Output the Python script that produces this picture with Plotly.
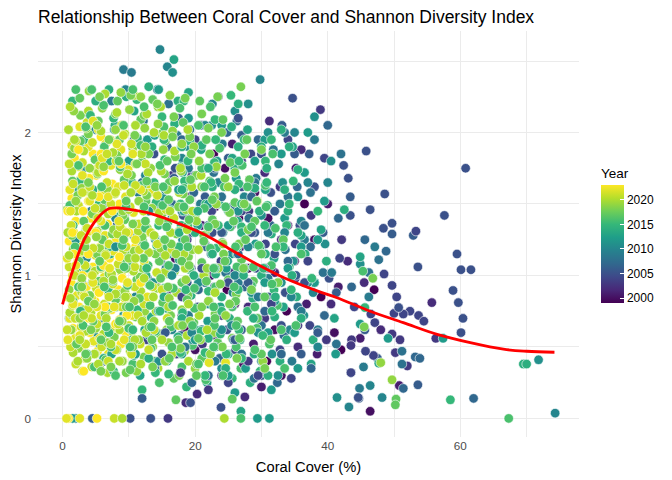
import plotly.graph_objects as go

# Points (coral cover %, Shannon index), one list per survey year
pts_2023 = [(2.9,0.50),(5.3,0.47),(8.8,0.52),(1.6,0.63),(4.1,0.60),(6.6,0.65),(9.6,0.60),
            (2.5,0.78),(4.9,0.82),(7.4,0.76),(10.4,0.80),(1.3,0.95),(3.6,0.92),(6.0,0.96),(8.4,0.90),
            (2.3,1.10),(4.6,1.06),(7.1,1.12),(9.7,1.05),(1.0,1.24),(3.3,1.22),(5.7,1.20),(8.1,1.25),(11.0,1.20),
            (2.0,1.38),(4.3,1.40),(6.8,1.36),(9.3,1.40),(1.4,1.54),(3.9,1.52),(6.2,1.55),(8.6,1.50),
            (2.7,1.67),(5.1,1.70),(7.5,1.64),(10.2,1.68),(1.8,1.82),(4.6,1.85),(7.0,1.80),(3.3,1.95),(5.8,1.97),
            (0.9,0.0),(5.2,0.0),(11.8,0.95),(3.2,0.33),
            (0.7,0.85),(2.0,0.70),(3.0,1.00),(4.0,0.70),(5.5,0.88),(6.4,0.78),(8.0,0.66),(9.0,0.98),
            (1.7,1.15),(3.9,1.15),(6.2,1.07),(8.6,1.13),(1.5,1.30),(5.0,1.30),(7.5,1.45),(10.0,1.30),
            (0.8,1.45),(3.1,1.45),(5.5,1.55),(4.0,1.68),(6.2,1.73),(8.8,1.78),(2.4,1.88),(5.8,1.85),(9.7,0.72)]
pts_2022 = [(3.4,0.42),(6.9,0.45),(1.9,0.56),(4.7,0.54),(7.8,0.57),(10.9,0.55),
            (1.1,0.70),(3.3,0.70),(5.8,0.72),(8.6,0.69),(12.0,0.72),(2.2,0.86),(4.4,0.84),(6.9,0.87),(9.4,0.84),
            (1.5,1.00),(3.9,1.02),(6.3,0.99),(8.9,1.02),(11.6,0.98),(2.7,1.16),(5.0,1.14),(7.7,1.17),(10.3,1.14),
            (1.7,1.30),(4.1,1.31),(6.4,1.28),(9.0,1.32),(12.5,1.30),(2.8,1.46),(5.3,1.44),(7.9,1.47),(10.7,1.44),
            (1.1,1.60),(3.6,1.61),(6.0,1.59),(8.4,1.62),(13.2,1.58),(2.4,1.76),(4.9,1.74),(7.3,1.77),(9.9,1.74),
            (1.4,1.91),(3.9,1.90),(6.5,1.92),(8.8,1.88),(2.6,2.04),(5.4,2.02),
            (0.6,0.0),(2.6,0.0),(22.1,0.39),(24.6,0.39),(29.4,1.52),
            (0.8,0.55),(2.6,0.58),(5.6,0.56),(9.3,0.55),(1.6,0.80),(3.2,0.86),(5.2,0.78),(7.8,0.78),
            (10.5,0.72),(12.8,0.85),(0.7,1.12),(2.0,1.07),(4.6,0.95),(7.1,1.05),(9.8,0.95),(12.3,1.10),
            (3.3,1.25),(5.8,1.38),(8.5,1.38),(11.0,1.25),(1.2,1.45),(4.1,1.52),(6.9,1.55),(9.5,1.55),
            (11.8,1.60),(3.0,1.70),(6.0,1.82),(8.2,1.92),(10.6,1.85),(4.6,2.08)]
pts_2021 = [(2.0,0.38),(4.4,0.36),(9.1,0.40),(1.2,0.50),(5.9,0.50),(8.0,0.48),(11.7,0.52),
            (2.8,0.64),(5.2,0.66),(7.2,0.62),(10.0,0.65),(13.8,0.62),(1.5,0.79),(3.9,0.77),(6.3,0.80),(8.9,0.78),(12.3,0.80),
            (2.6,0.93),(5.1,0.91),(7.6,0.94),(10.9,0.92),(15.0,0.90),(1.0,1.06),(3.4,1.07),(5.8,1.05),(8.4,1.08),(12.8,1.06),
            (2.2,1.21),(4.6,1.19),(7.0,1.22),(9.6,1.20),(14.3,1.22),(1.3,1.35),(3.7,1.33),(6.1,1.36),(8.7,1.34),(11.5,1.36),
            (2.4,1.49),(4.9,1.47),(7.3,1.50),(10.2,1.48),(15.6,1.46),(1.6,1.64),(4.1,1.62),(6.7,1.65),(9.3,1.63),(12.9,1.64),
            (3.0,1.79),(5.6,1.77),(8.1,1.80),(11.0,1.78),(2.0,1.94),(4.5,1.93),(7.2,1.95),(10.4,1.92),
            (3.7,2.07),(8.9,2.05),(7.8,0.0),
            (0.7,0.62),(3.5,0.52),(6.9,0.40),(10.4,0.45),(13.0,0.48),(1.9,0.70),(4.4,0.70),(8.4,0.66),
            (11.4,0.72),(15.8,0.70),(3.3,0.85),(7.0,0.85),(9.8,0.85),(13.6,0.92),(1.8,1.00),(4.5,1.00),
            (10.9,1.06),(14.2,1.02),(6.5,1.14),(11.6,1.18),(16.5,1.18),(2.8,1.28),(9.6,1.30),(13.3,1.30),
            (5.3,1.40),(12.2,1.45),(16.8,1.40),(3.0,1.58),(8.0,1.58),(11.0,1.63),(14.3,1.56),(1.0,1.78),
            (6.7,1.85),(12.5,1.78),(9.2,1.98)]
pts_2020 = [(3.0,0.33),(6.8,0.32),(14.4,0.35),(1.6,0.46),(4.8,0.45),(10.2,0.47),(16.5,0.45),
            (3.5,0.61),(6.2,0.59),(8.6,0.62),(12.6,0.60),(18.8,0.58),(1.1,0.74),(4.3,0.74),(9.7,0.73),(14.1,0.75),(20.6,0.72),
            (2.9,0.88),(5.5,0.89),(8.0,0.87),(11.8,0.89),(17.2,0.88),(1.9,1.02),(4.9,1.03),(7.4,1.01),(10.7,1.03),(15.4,1.02),(21.3,1.00),
            (3.1,1.17),(6.5,1.15),(9.2,1.18),(13.0,1.16),(18.3,1.15),(0.8,1.30),(5.2,1.31),(8.3,1.29),(11.4,1.31),(16.3,1.30),
            (2.1,1.45),(6.9,1.43),(10.0,1.46),(14.6,1.44),(19.6,1.45),(3.8,1.59),(7.9,1.57),(12.2,1.59),(17.6,1.58),
            (1.4,1.73),(5.4,1.72),(9.8,1.71),(14.9,1.73),(20.9,1.70),(3.2,1.87),(7.6,1.86),(11.9,1.85),(16.9,1.87),
            (0.9,2.02),(5.8,2.01),(9.4,1.99),(13.8,2.00),(18.9,2.02),(3.9,2.15),(8.2,2.14),(12.7,2.13),(6.4,2.27),(10.8,2.26),
            (9.0,0.0),(24.4,0.0),(1.15,2.18),
            (2.3,0.40),(5.4,0.38),(8.6,0.40),(11.8,0.38),(19.0,0.40),(2.6,0.55),(7.3,0.52),(10.9,0.55),
            (15.0,0.55),(17.5,0.65),(21.8,0.62),(3.2,0.72),(6.6,0.70),(12.0,0.68),(16.0,0.78),(19.0,0.80),
            (1.2,0.84),(9.5,0.85),(13.7,0.85),(23.0,0.88),(6.2,0.96),(12.3,0.98),(18.5,1.05),(1.0,1.14),
            (11.0,1.12),(15.5,1.14),(20.5,1.18),(3.6,1.25),(13.8,1.28),(18.8,1.32),(4.5,1.56),(16.2,1.45),
            (10.3,1.58),(19.5,1.62),(12.9,1.72),(17.8,1.75),(1.8,1.95),(15.3,1.98),(11.0,2.05),(14.8,2.18)]
pts_2019 = [(5.6,0.35),(11.2,0.33),(20.0,0.35),(2.4,0.49),(8.2,0.48),(13.6,0.50),(18.4,0.47),
            (1.3,0.62),(5.0,0.63),(10.5,0.61),(15.7,0.62),(22.9,0.60),(3.1,0.76),(7.1,0.77),(12.4,0.75),(18.0,0.76),
            (1.0,0.90),(6.0,0.91),(9.4,0.89),(14.3,0.91),(20.3,0.90),(3.7,1.05),(8.7,1.04),(12.1,1.05),(16.9,1.03),(23.5,1.05),
            (1.6,1.18),(5.6,1.19),(10.8,1.17),(14.8,1.19),(19.6,1.18),(3.6,1.33),(7.7,1.32),(12.8,1.33),(17.6,1.31),(22.0,1.33),
            (0.7,1.46),(5.9,1.47),(9.1,1.45),(13.5,1.47),(18.6,1.46),(2.9,1.61),(6.8,1.60),(11.0,1.61),(15.8,1.60),(21.0,1.62),
            (4.1,1.75),(8.7,1.74),(13.3,1.75),(17.9,1.73),(23.2,1.76),(1.8,1.89),(6.3,1.88),(10.6,1.89),(15.2,1.88),(19.8,1.90),
            (3.6,2.03),(8.0,2.02),(12.4,2.03),(16.6,2.01),(1.7,2.15),(6.0,2.17),(10.1,2.16),(14.4,2.18),(4.0,2.29),(8.8,2.28),
            (49.7,0.27),(48.0,0.39),(30.2,0.40),
            (3.7,0.42),(9.0,0.40),(15.5,0.40),(22.3,0.45),(6.8,0.53),(11.5,0.55),(16.0,0.53),(20.8,0.55),
            (2.6,0.70),(9.0,0.68),(13.8,0.68),(19.2,0.68),(24.6,0.72),(4.8,0.80),(10.8,0.82),(16.1,0.84),
            (22.0,0.82),(2.9,0.98),(7.6,0.97),(18.6,0.97),(21.8,1.05),(10.0,1.12),(17.1,1.15),(24.2,1.22),
            (5.1,1.27),(14.6,1.38),(20.2,1.38),(2.0,1.52),(11.5,1.52),(23.2,1.50),(16.9,1.66),(25.0,1.62),
            (6.2,1.76),(20.6,1.80),(12.5,1.90),(18.0,1.92),(5.2,2.05),(14.4,2.06),(11.8,2.25),(16.2,2.26)]
pts_2018 = [(9.6,0.32),(17.6,0.30),(4.9,0.45),(12.3,0.43),(22.3,0.46),
            (2.7,0.58),(7.8,0.57),(14.7,0.59),(19.9,0.58),(25.6,0.56),(1.5,0.72),(6.4,0.73),(11.0,0.71),(16.3,0.72),(23.0,0.73),
            (4.1,0.86),(8.8,0.87),(13.6,0.85),(18.9,0.86),(26.2,0.87),(2.2,1.00),(7.0,1.01),(11.7,0.99),(16.0,1.01),(21.5,1.00),
            (5.2,1.15),(9.9,1.14),(14.0,1.15),(19.0,1.13),(24.3,1.15),(1.4,1.28),(7.5,1.29),(12.0,1.27),(17.2,1.29),(21.3,1.28),
            (4.5,1.43),(9.1,1.42),(15.0,1.43),(20.0,1.42),(25.2,1.44),(2.3,1.56),(7.2,1.57),(12.7,1.56),(18.2,1.57),(22.9,1.55),
            (5.3,1.71),(10.4,1.70),(15.4,1.71),(20.2,1.70),(26.0,1.72),(1.4,1.85),(8.2,1.84),(13.0,1.85),(17.0,1.83),(22.2,1.85),
            (3.9,1.99),(10.9,1.98),(14.9,1.99),(19.2,1.97),(24.0,2.00),(2.7,2.12),(8.0,2.13),(12.3,2.12),(16.8,2.11),(21.0,2.13),
            (5.6,2.25),(10.3,2.26),(18.5,2.24),(26.9,2.32),(46.8,0.98),(45.5,0.64),(32.5,0.95),(30.0,1.88),
            (7.3,0.36),(13.6,0.36),(20.2,0.38),(26.3,0.42),(10.6,0.50),(17.8,0.49),(24.1,0.50),(4.3,0.62),
            (13.0,0.64),(18.1,0.65),(28.4,0.62),(9.6,0.78),(21.0,0.78),(25.2,0.80),(2.9,0.92),(15.9,0.92),
            (23.8,0.94),(28.5,0.90),(9.6,1.05),(19.1,1.07),(27.3,1.05),(3.4,1.20),(16.4,1.22),(26.6,1.22),
            (10.6,1.36),(23.0,1.36),(28.0,1.32),(17.5,1.48),(27.4,1.50),(3.9,1.65),(14.0,1.62),(24.5,1.68),
            (11.2,1.78),(19.4,1.85),(27.5,1.85),(7.0,1.95),(16.6,1.97),(22.0,2.03),(14.3,2.20),(23.4,2.25),
            (5.8,0.33),(30.5,0.35)]
pts_2017 = [(16.8,0.28),(24.3,0.32),(6.5,0.41),(13.9,0.40),(21.0,0.42),(27.3,0.40),
            (2.1,0.52),(9.8,0.54),(17.5,0.55),(23.4,0.53),(4.6,0.68),(12.0,0.69),(19.8,0.67),(26.4,0.68),(29.4,0.70),
            (1.6,0.82),(8.0,0.83),(15.1,0.81),(22.1,0.82),(5.5,0.96),(11.2,0.97),(18.0,0.95),(25.0,0.97),(28.8,0.96),
            (2.5,1.10),(9.0,1.11),(14.6,1.10),(21.0,1.09),(27.0,1.11),(6.0,1.25),(12.1,1.24),(18.5,1.25),(24.1,1.23),
            (3.2,1.38),(9.4,1.39),(15.9,1.37),(22.6,1.39),(29.0,1.38),(6.3,1.53),(12.6,1.52),(19.2,1.53),(26.0,1.51),
            (1.5,1.66),(9.3,1.67),(16.1,1.65),(22.2,1.66),(28.2,1.67),(4.9,1.81),(12.0,1.80),(19.0,1.81),(25.3,1.79),
            (2.7,1.94),(8.6,1.95),(15.5,1.94),(21.7,1.95),(27.8,1.95),(5.4,2.08),(11.8,2.09),(18.2,2.07),(24.2,2.09),
            (2.6,2.24),(8.3,2.22),(13.6,2.23),(20.7,2.22),
            (50.3,0.135),(50.2,0.095),(25.6,0.135),(17.1,0.13),(33.3,1.25),(31.4,0.55),
            (10.2,0.34),(20.2,0.30),(3.5,0.45),(16.1,0.42),(30.0,0.45),(5.8,0.55),(13.5,0.55),(20.5,0.56),
            (26.7,0.56),(8.6,0.68),(16.1,0.68),(23.0,0.70),(3.9,0.82),(11.6,0.84),(18.8,0.83),(26.1,0.82),
            (30.5,0.85),(7.6,0.96),(14.8,0.98),(21.7,0.96),(5.6,1.10),(12.2,1.12),(18.0,1.10),(24.5,1.10),
            (30.0,1.15),(9.2,1.25),(15.4,1.25),(21.3,1.24),(27.6,1.25),(12.5,1.38),(19.1,1.39),(25.8,1.38),
            (9.6,1.52),(16.0,1.53),(22.6,1.53),(29.3,1.52),(12.7,1.66),(19.3,1.67),(8.5,1.80),(15.8,1.80)]
pts_2016 = [(14.6,0.25),(21.6,0.27),(4.8,0.36),(10.6,0.38),(18.0,0.36),(26.9,0.35),
            (7.3,0.50),(13.3,0.49),(19.6,0.51),(26.2,0.50),(31.2,0.52),(3.1,0.65),(10.0,0.63),(16.4,0.64),(22.9,0.65),(29.3,0.63),
            (6.8,0.78),(13.2,0.79),(19.9,0.77),(25.6,0.78),(32.4,0.79),(2.4,0.92),(9.8,0.93),(16.7,0.91),(23.1,0.92),(28.5,0.93),
            (5.8,1.06),(12.9,1.07),(19.2,1.05),(26.3,1.06),(31.5,1.07),(1.9,1.20),(9.0,1.21),(15.8,1.20),(22.3,1.19),(29.6,1.21),
            (6.4,1.35),(12.5,1.33),(18.9,1.35),(25.3,1.34),(32.1,1.33),(1.1,1.49),(9.6,1.48),(15.1,1.49),(21.4,1.47),(27.8,1.48),
            (5.9,1.62),(12.0,1.63),(18.3,1.61),(24.4,1.62),(30.6,1.63),(2.4,1.77),(8.7,1.76),(14.7,1.77),(21.0,1.75),(27.1,1.77),
            (6.3,1.90),(11.8,1.91),(17.9,1.90),(23.7,1.89),(31.7,1.85),(3.5,2.04),(9.2,2.05),(15.3,2.04),(20.5,2.05),
            (6.2,2.19),(12.3,2.18),(17.7,2.17),(22.3,2.18),(2.0,2.30),(4.4,2.30),(10.6,2.30),
            (26.9,0.0),(67.3,0.0),(45.3,1.03),(36.0,1.15),(35.2,0.65),
            (8.0,0.30),(24.2,0.30),(10.2,0.50),(16.5,0.50),(22.8,0.50),(29.0,0.48),(6.6,0.64),(13.4,0.64),
            (19.6,0.65),(26.2,0.65),(33.0,0.62),(10.1,0.78),(16.6,0.79),(22.8,0.78),(29.0,0.78),(6.3,0.92),
            (13.2,0.93),(19.9,0.91),(25.9,0.92),(31.6,0.94),(9.3,1.06),(16.0,1.07),(22.8,1.05),(28.8,1.06),
            (12.4,1.21),(18.9,1.20),(26.1,1.20),(32.2,1.20),(15.7,1.34),(22.0,1.34),(28.5,1.34),(12.3,1.48),
            (18.3,1.48),(24.6,1.48),(30.7,1.48),(15.2,1.62),(21.4,1.62),(27.9,1.62),(20.5,0.38),(33.5,0.35)]
pts_2015 = [(12.0,0.20),(18.7,0.22),(25.6,0.28),(7.7,0.33),(16.0,0.31),(29.8,0.33),
            (3.7,0.45),(10.8,0.44),(21.5,0.46),(33.0,0.45),(7.0,0.60),(14.0,0.61),(23.8,0.59),(34.6,0.62),
            (2.7,0.75),(11.3,0.76),(18.1,0.74),(27.9,0.75),(6.9,0.90),(15.3,0.91),(22.0,0.89),(31.9,0.90),
            (3.5,1.05),(10.3,1.06),(19.2,1.04),(26.6,1.05),(34.2,1.06),(7.0,1.20),(14.2,1.21),(23.2,1.19),(29.8,1.20),
            (1.6,1.35),(10.8,1.36),(17.9,1.35),(27.0,1.34),(33.8,1.35),(5.5,1.50),(14.1,1.51),(21.6,1.50),(30.9,1.49),
            (2.6,1.66),(10.5,1.65),(18.4,1.66),(26.6,1.64),(34.8,1.66),(7.0,1.80),(15.4,1.81),(22.9,1.79),(30.6,1.80),
            (3.2,1.95),(11.3,1.96),(19.2,1.94),(27.4,1.95),(7.7,2.10),(15.0,2.11),(23.0,2.09),
            (1.5,2.22),(11.2,2.23),(18.3,2.22),(25.4,2.26),
            (58.5,0.13),(45.6,0.775),(37.6,0.98),(38.5,1.45),(4.2,2.12),
            (14.0,0.32),(21.5,0.30),(27.0,0.42),(17.8,0.46),(24.7,0.45),(30.2,0.58),(10.6,0.62),(20.9,0.61),
            (26.6,0.62),(14.7,0.75),(24.0,0.75),(31.6,0.75),(18.6,0.90),(26.5,0.90),(34.5,0.90),(12.7,1.05),
            (23.0,1.05),(30.3,1.05),(17.6,1.20),(26.4,1.20),(33.3,1.20),(14.5,1.35),(23.5,1.35),(30.5,1.35),
            (17.8,1.50),(27.0,1.50),(34.2,1.50),(13.8,1.65),(22.4,1.65),(30.8,1.65),(18.9,1.80),(26.6,1.80),
            (15.3,1.95),(23.1,1.95),(31.5,1.95)]
pts_2014 = [(28.3,0.25),(15.8,0.40),(6.2,0.42),(21.3,0.42),(32.8,0.40),
            (10.2,0.56),(17.4,0.57),(26.8,0.55),(37.8,0.55),(4.3,0.70),(13.3,0.71),(25.2,0.70),(32.0,0.71),
            (8.4,0.85),(19.4,0.86),(28.7,0.84),(35.3,0.85),(2.2,1.02),(12.6,1.00),(23.1,1.01),(30.0,1.00),
            (7.2,1.15),(16.8,1.16),(26.3,1.15),(36.6,1.15),(3.4,1.30),(11.9,1.31),(20.0,1.30),(31.5,1.29),
            (8.6,1.45),(16.2,1.46),(25.0,1.45),(34.0,1.45),(4.6,1.60),(12.2,1.60),(22.6,1.62),(29.0,1.61),
            (9.5,1.75),(17.8,1.76),(26.0,1.75),(35.5,1.74),(3.4,1.90),(13.5,1.90),(21.0,1.91),(30.0,1.90),
            (7.9,2.05),(16.9,2.06),(25.5,2.04),(33.0,2.02),(5.0,2.22),(9.6,2.25),(17.4,2.22),(26.5,2.20),
            (7.0,2.30),(13.0,2.32),(69.5,0.38),(70.0,0.38),(42.5,1.46),(39.8,1.10),
            (24.6,0.35),(31.0,0.30),(13.0,0.42),(28.9,0.45),(22.0,0.56),(33.8,0.55),(18.0,0.70),(28.8,0.70),
            (36.0,0.70),(15.3,0.85),(24.0,0.85),(32.1,0.85),(19.8,1.00),(27.3,1.00),(34.6,1.00),(22.6,1.15),
            (30.6,1.15),(17.6,1.30),(27.0,1.30),(35.5,1.30),(20.4,1.45),(29.7,1.45),(18.0,1.60),(26.0,1.60),
            (33.5,1.60),(22.0,1.75),(30.8,1.75),(18.0,1.90),(26.5,1.90),(34.2,1.90)]
pts_2013 = [(11.7,0.30),(21.8,0.25),(26.9,0.05),(7.4,0.45),(16.8,0.48),(25.0,0.45),(37.5,0.38),
            (3.9,0.62),(12.4,0.62),(19.9,0.63),(29.2,0.62),(8.1,0.78),(15.7,0.77),(23.8,0.78),(33.3,0.78),
            (4.5,0.95),(13.0,0.94),(20.6,0.95),(28.6,0.94),(38.0,0.95),(9.0,1.10),(17.6,1.11),(24.9,1.10),(31.9,1.12),
            (5.1,1.28),(13.9,1.27),(21.5,1.28),(36.0,1.28),(9.4,1.48),(18.3,1.45),(26.4,1.38),(32.0,1.45),(39.0,1.32),
            (2.4,1.60),(14.1,1.62),(23.6,1.50),(30.6,1.60),(6.6,1.80),(18.1,1.72),(25.6,1.82),(34.7,1.90),
            (10.8,2.15),(13.9,1.98),(20.9,1.88),(27.9,2.02),(5.2,1.82),(16.8,2.51),(19.0,2.28),
            (47.7,0.386),(44.9,1.13),(41.0,0.70)]
pts_2012 = [(1.0,0.70),(2.9,0.95),(4.1,2.12),(5.6,0.52),(7.1,1.62),(8.6,1.05),(10.0,1.80),(11.5,1.30),
            (13.0,0.58),(14.5,2.30),(16.0,1.15),(17.5,0.88),(19.0,2.10),(20.4,1.35),(21.9,0.68),(23.3,1.80),
            (24.7,1.05),(26.2,1.68),(27.6,0.35),(29.1,1.22),(30.5,1.95),(32.0,0.82),(33.5,1.40),(35.0,0.60),
            (36.5,1.72),(38.0,0.95),(39.5,1.52),(41.2,0.45),(29.4,0.0),(31.2,0.0),(1.5,0.0),(57.4,0.56),
            (49.1,0.56),(44.9,0.66),(6.0,1.35),(12.8,1.95),(18.0,0.45),(25.0,0.30),(34.0,1.05),(37.0,2.00),
            (14.5,0.75),(20.0,0.55),(22.0,1.50),(27.5,1.05),(31.0,0.60),(33.0,1.85),(36.0,1.20),(25.0,1.35),
            (17.5,1.60),(29.0,1.80),(35.5,0.35),(11.0,0.45),(24.0,2.05),(30.5,0.95),(38.5,1.25),
            (26.0,0.18),(31.5,0.20)]
pts_2011 = [(3.2,1.75),(4.8,0.58),(6.2,1.50),(7.8,2.02),(9.2,0.72),(10.7,1.28),(12.2,1.92),(13.6,0.95),
            (15.1,1.55),(16.6,2.42),(18.1,1.25),(19.6,0.55),(21.0,1.62),(22.5,2.05),(24.0,0.62),(25.5,1.15),
            (27.0,1.80),(28.5,0.88),(30.0,1.42),(31.6,0.45),(33.2,1.65),(34.8,1.10),(36.4,0.72),(38.0,2.11),
            (39.6,1.22),(41.4,0.146),(40.5,1.80),(44.9,1.08),(71.8,0.41),(2.0,1.25),(8.0,1.20),(14.5,0.40),
            (20.5,0.95),(26.0,2.15),(32.5,0.30),
            (16.5,1.00),(22.0,0.80),(26.5,1.45),(29.5,0.60),(33.0,0.95),(35.5,1.55),(19.0,1.90),(24.0,0.35),
            (31.0,2.00),(37.0,0.95),(13.0,1.45),(28.0,2.20)]
pts_2010 = [(3.6,1.12),(5.0,2.02),(6.6,0.92),(8.0,1.40),(9.5,2.30),(11.0,0.85),(12.5,1.70),(14.0,1.25),
            (14.7,2.58),(15.8,2.46),(16.5,0.62),(18.0,1.82),(19.6,1.42),(21.0,0.98),(22.6,2.20),(24.2,1.30),
            (25.7,0.88),(27.4,1.55),(29.8,2.37),(31.0,1.05),(32.6,1.78),(34.3,0.62),(36.0,1.38),(37.8,0.88),
            (40.0,1.65),(43.2,0.08),(46.4,0.23),(48.2,0.146),(74.3,0.037),(2.0,0.0),(6.0,1.60),(17.0,1.05),
            (23.0,0.50),(35.0,2.00),
            (19.5,0.60),(23.5,1.65),(28.0,1.20),(30.0,0.40),(33.5,1.30),(37.0,1.65),(25.5,0.65),(15.5,1.60),
            (21.5,2.05),(34.5,0.85),(26.0,1.00),(38.5,0.50)]
pts_2009 = [(4.3,1.45),(5.9,0.70),(7.4,2.22),(9.2,2.44),(10.4,2.42),(11.4,1.58),(13.1,0.80),(14.3,2.30),
            (15.6,1.05),(17.3,1.98),(19.0,0.72),(20.8,1.50),(22.4,1.15),(24.1,1.92),(25.8,0.55),(27.5,1.25),
            (29.2,1.68),(31.0,0.98),(32.8,1.50),(34.6,0.40),(36.5,1.25),(38.5,0.62),(40.6,1.02),(44.8,0.21),
            (45.4,0.36),(47.1,1.20),(46.2,0.85),(12.0,1.20),(18.0,1.45),(26.5,0.95),
            (16.5,1.40),(21.5,0.95),(26.0,1.75),(29.5,0.85),(33.5,2.00),(36.0,0.75),(23.0,0.40),(19.0,1.75),
            (31.0,1.30),(38.0,1.95)]
pts_2008 = [(5.4,0.95),(7.0,1.78),(8.8,0.40),(10.5,1.10),(12.2,2.08),(14.0,1.48),(15.7,0.85),(17.4,1.30),
            (19.2,2.02),(21.0,0.62),(22.8,1.72),(24.6,1.02),(26.3,2.08),(28.1,1.40),(30.0,0.65),(31.8,1.88),
            (33.6,1.18),(35.5,0.78),(37.4,1.58),(39.3,1.02),(41.3,0.52),(43.5,0.32),(46.2,1.02),(47.7,1.11),
            (51.2,0.38),(51.2,0.47),(16.0,2.20),(28.9,0.28),(10.0,1.70),(42.0,1.85),
            (18.5,0.50),(22.0,1.35),(25.5,0.80),(29.0,1.65),(32.5,0.95),(36.5,1.35),(20.0,1.70),(27.0,0.45),
            (34.0,1.55),(24.0,1.55)]
pts_2007 = [(6.3,0.40),(8.2,1.35),(10.1,0.55),(12.0,1.65),(13.9,0.35),(15.8,1.90),(17.8,0.58),(19.8,1.58),
            (21.7,1.20),(23.7,0.42),(25.6,1.48),(27.5,0.92),(29.5,1.95),(31.4,1.35),(33.4,0.58),(35.4,1.62),
            (37.4,1.20),(39.5,0.72),(41.6,1.40),(43.6,0.92),(45.6,1.25),(48.8,1.17),(53.2,0.43),(53.9,0.42),
            (51.4,0.21),(62.0,0.14),(14.8,1.10),(24.8,2.00),(32.4,0.25),(40.0,2.05),
            (16.5,1.50),(20.5,0.90),(23.0,1.75),(26.5,1.15),(30.5,0.75),(34.0,1.10),(37.5,0.35),(28.5,1.55),
            (18.0,1.95),(22.0,0.30),(19.5,0.25),(33.0,0.45)]
pts_2006 = [(8.7,0.88),(10.8,1.95),(12.8,0.98),(14.8,1.15),(16.8,1.68),(18.8,0.95),(20.9,2.05),(22.9,0.92),
            (25.0,1.82),(27.0,0.62),(29.0,1.30),(31.1,0.85),(33.1,2.05),(35.2,1.00),(37.2,1.85),(39.3,1.30),
            (41.3,0.88),(43.4,1.55),(45.6,0.62),(47.5,0.42),(49.7,1.29),(52.9,1.28),(53.6,0.235),(44.7,0.14),
            (4.5,0.0),(12.0,0.14),(9.8,1.45),(19.6,1.30),(27.0,1.98),(30.0,0.30),(36.0,0.45),
            (15.5,0.60),(21.5,1.55),(24.0,1.30),(28.0,0.95),(32.0,1.45),(35.0,1.85),(38.5,0.60),(26.0,0.55),
            (17.5,2.10),(30.5,1.05)]
pts_2005 = [(10.2,0.0),(13.3,0.0),(11.5,1.20),(13.8,1.85),(16.0,1.02),(18.2,1.42),(20.4,0.78),(22.6,1.30),
            (24.8,0.62),(27.0,1.62),(29.2,1.05),(31.4,1.58),(33.6,0.88),(34.7,2.24),(35.8,1.35),(38.0,1.62),
            (40.2,0.98),(42.4,1.77),(43.1,1.68),(45.8,1.87),(46.4,1.46),(48.6,1.57),(49.7,1.365),(50.7,0.775),
            (53.6,1.06),(59.5,1.15),(60.1,1.04),(61.6,1.04),(60.8,1.75),(58.9,0.895),(59.7,0.81),(60.4,0.70),
            (60.1,0.60),(57.6,1.42),(48.4,1.33),(19.3,0.11),(23.9,0.077),(44.6,0.146),(43.4,1.42),
            (17.0,1.75),(21.0,1.05),(25.0,0.95),(28.5,1.30),(30.0,1.85),(33.0,0.65),(36.5,0.95),(26.5,2.10),
            (15.0,0.45),(32.0,1.15)]
pts_2004 = [(12.6,0.55),(14.9,1.38),(17.2,0.45),(19.4,1.05),(21.7,1.75),(23.9,1.10),(26.1,0.48),(28.4,1.85),
            (30.6,1.22),(32.8,0.48),(35.1,1.22),(37.3,0.65),(39.5,1.82),(41.8,1.12),(44.0,0.78),(46.5,0.73),
            (47.1,0.67),(50.0,0.735),(50.4,0.85),(49.7,0.93),(48.5,1.01),(52.4,0.75),(51.4,0.73),(53.7,0.72),
            (54.5,0.68),(53.3,1.31),(43.5,0.32),(46.9,0.44),(45.7,0.47),
            (18.0,0.85),(22.5,1.45),(27.0,1.45),(31.5,0.80),(34.0,1.95),(37.0,1.10),(25.0,0.25),(20.0,1.95),
            (29.5,0.30),(34.5,0.28)]
pts_2003 = [(14.2,0.92),(16.5,1.70),(18.8,1.25),(21.1,0.52),(23.5,2.25),(25.8,1.02),(28.1,1.45),(30.5,0.70),
            (32.8,1.62),(35.1,0.98),(37.5,1.42),(39.8,0.55),(42.1,1.25),(43.6,0.55),(43.5,0.51),(49.7,0.59),
            (50.9,0.55),(50.2,0.46),(52.0,0.367),(56.3,0.56),(17.8,0.32),(22.0,0.20),(15.9,0.0),(38.9,2.16),
            (19.5,1.70),(24.0,0.72),(27.0,1.80),(31.5,1.05),(35.5,0.65),(28.0,0.40)]
pts_2002 = [(15.5,1.45),(18.0,0.72),(20.5,1.90),(23.0,0.58),(25.5,1.35),(28.0,0.78),(30.5,1.72),(33.0,1.25),
            (35.5,0.50),(38.0,0.95),(40.5,0.80),(43.0,1.10),(45.5,0.95),(48.0,0.62),(55.7,0.81),(20.3,0.17),
            (18.6,0.11),(27.5,0.15),(31.2,2.08),(36.0,1.88)]
pts_2001 = [(16.0,0.90),(19.2,1.55),(22.4,1.00),(25.6,1.92),(28.8,0.52),(32.0,1.02),(35.2,1.75),(38.4,0.45),
            (41.6,0.92),(44.9,0.56),(50.8,0.23),(24.0,0.30),(30.0,0.22),(21.0,1.35),(26.8,1.20),(34.0,1.35),
            (40.0,1.50),(36.8,0.80)]
pts_2000 = [(17.0,1.12),(20.0,0.48),(23.0,1.48),(26.0,0.80),(29.0,1.58),(32.0,0.62),(35.0,1.10),(38.0,1.25),
            (41.0,0.60),(46.4,0.05),(33.0,0.30),(27.3,0.38),(24.5,1.75),(19.0,0.85),(31.0,1.40)]
pts_1999 = [(18.5,0.62),(21.5,1.22),(24.8,0.90),(28.0,1.05),(30.8,0.40),(33.8,0.75),(36.5,1.50),(39.0,0.85),
            (42.0,0.48),(47.0,0.90),(22.8,1.85),(26.6,1.40)]

# Loess trend line
trend_cover = [0, 1.25, 3.26, 5.28, 7.03, 8.5, 10.3, 13.3, 17.3, 21.4, 25.4, 29.4, 33.4,
               38.5, 41.4, 46.4, 51.4, 56.5, 61.5, 66.5, 70.0, 74.2]
trend_shannon = [0.797, 0.995, 1.25, 1.40, 1.468, 1.472, 1.46, 1.433, 1.368, 1.286, 1.18, 1.077, 0.984,
                 0.89, 0.844, 0.75, 0.67, 0.588, 0.53, 0.484, 0.47, 0.463]

year_ticks = [2000, 2005, 2010, 2015, 2020]

groups = [(1999, pts_1999), (2000, pts_2000), (2001, pts_2001), (2002, pts_2002), (2003, pts_2003),
          (2004, pts_2004), (2005, pts_2005), (2006, pts_2006), (2007, pts_2007), (2008, pts_2008),
          (2009, pts_2009), (2010, pts_2010), (2011, pts_2011), (2012, pts_2012), (2013, pts_2013),
          (2014, pts_2014), (2015, pts_2015), (2016, pts_2016), (2017, pts_2017), (2018, pts_2018),
          (2019, pts_2019), (2020, pts_2020), (2021, pts_2021), (2022, pts_2022), (2023, pts_2023)]

# mix the years so the drawing order is not sorted by year
cover, shannon, year = [], [], []
longest = max(len(p) for _, p in groups)
for i in range(longest):
    for yr, pts in groups:
        if i < len(pts):
            cover.append(pts[i][0])
            shannon.append(pts[i][1])
            year.append(yr)

FONT = "Liberation Sans, Arial, sans-serif"

fig = go.Figure()

fig.add_trace(go.Scatter(
    x=cover, y=shannon, mode="markers",
    marker=dict(
        size=9.5, color=year, colorscale="Viridis", cmin=1999, cmax=2023,
        line=dict(color="white", width=0.6),
        colorbar=dict(
            title=dict(text="Year", side="top", font=dict(size=13.5, color="black")),
            tickvals=year_ticks, ticks="inside", ticklen=4, tickcolor="white",
            tickfont=dict(size=12, color="black"),
            thickness=23, len=138, lenmode="pixels",
            x=1.0407, xanchor="left", y=0.330, yanchor="bottom",
            xpad=0, ypad=0, outlinewidth=0,
        ),
    ),
    showlegend=False,
))

fig.add_trace(go.Scatter(
    x=trend_cover, y=trend_shannon, mode="lines",
    line=dict(color="red", width=2.8, shape="spline"),
    showlegend=False,
))

# page body adds 8px, margins are set so the panel lands where the reference has it
fig.update_layout(
    width=672, height=480,
    margin=dict(l=30, r=101, t=23, b=51),
    paper_bgcolor="white", plot_bgcolor="white",
    font=dict(family=FONT),
    title=dict(text="Relationship Between Coral Cover and Shannon Diversity Index",
               x=0, xref="paper", xanchor="left", y=0.982, yanchor="middle",
               font=dict(size=17.5, color="black")),
)

fig.update_xaxes(
    range=[-3.7, 77.9], tickvals=[0, 20, 40, 60], showline=False, zeroline=False,
    gridcolor="#EBEBEB", gridwidth=1.3, ticks="", automargin=False,
    tickfont=dict(size=11.7, color="#4D4D4D"),
    minor=dict(tickvals=[10, 30, 50, 70], showgrid=True, gridcolor="#EBEBEB", gridwidth=0.7),
    title=dict(text="Coral Cover (%)", font=dict(size=14.7, color="black"), standoff=11),
)
fig.update_yaxes(
    range=[-0.13, 2.71], tickvals=[0, 1, 2], showline=False, zeroline=False,
    gridcolor="#EBEBEB", gridwidth=1.3, ticks="", automargin=False, ticklabelstandoff=6,
    tickfont=dict(size=11.7, color="#4D4D4D"),
    minor=dict(tickvals=[0.5, 1.5, 2.5], showgrid=True, gridcolor="#EBEBEB", gridwidth=0.7),
    title=dict(text="Shannon Diversity Index", font=dict(size=14.7, color="black"), standoff=0),
)

fig.write_html("out.html")
